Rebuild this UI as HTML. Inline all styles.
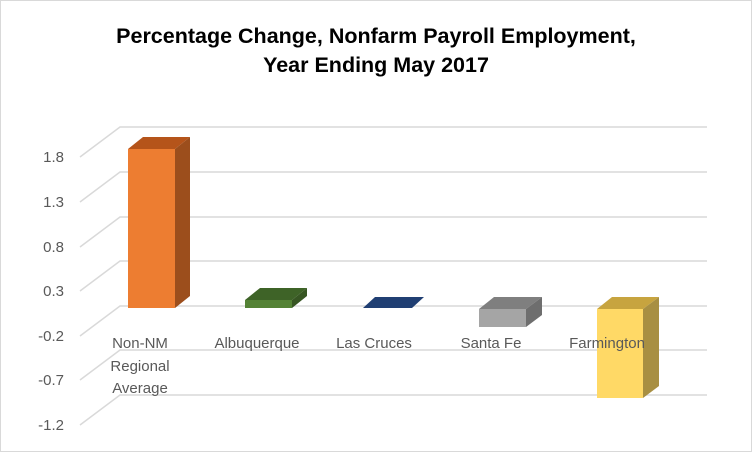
<!DOCTYPE html><html><head><style>body{margin:0}svg{display:block}</style></head><body>
<svg width="752" height="452" xmlns="http://www.w3.org/2000/svg" font-family="Liberation Sans, sans-serif">
<rect x="0.5" y="0.5" width="751" height="451" fill="#fff" stroke="#d9d9d9"/>
<text x="376" y="43" text-anchor="middle" font-size="21.5" font-weight="bold" fill="#000">Percentage Change, Nonfarm Payroll Employment,</text>
<text x="376" y="72" text-anchor="middle" font-size="21.5" font-weight="bold" fill="#000">Year Ending  May 2017</text>
<g stroke="#d9d9d9" stroke-width="1.5" fill="none">
<path d="M80 157L120 127H707M80 202L120 172H707M80 247L120 217H707M80 291L120 261H707M80 336L120 306H707M80 380L120 350H707M80 425L120 395H707"/>
</g>
<g font-size="15" fill="#595959" text-anchor="end">
<text x="64" y="162">1.8</text><text x="64" y="207">1.3</text><text x="64" y="252">0.8</text><text x="64" y="296">0.3</text><text x="64" y="341">-0.2</text><text x="64" y="385">-0.7</text><text x="64" y="430">-1.2</text>
</g>
<polygon points="128,149 143,137 190,137 175,149" fill="#b5541a"/>
<polygon points="175,149 190,137 190,296 175,308" fill="#9c4e1c"/>
<rect x="128" y="149" width="47" height="159" fill="#ed7d31"/>
<polygon points="245,300 260,288 307,288 292,300" fill="#3e6327"/>
<polygon points="292,300 307,288 307,296 292,308" fill="#375623"/>
<rect x="245" y="300" width="47" height="8" fill="#548235"/>
<polygon points="363,308 375,297 424,297 412,308" fill="#203f73"/>
<polygon points="479,309 494,297 542,297 526,309" fill="#7f7f7f"/>
<polygon points="526,309 542,297 542,315 526,327" fill="#6e6e6e"/>
<rect x="479" y="309" width="47" height="18" fill="#a5a5a5"/>
<polygon points="597,309 612,297 659,297 643,309" fill="#c7a43f"/>
<polygon points="643,309 659,297 659,386 643,398" fill="#a88f42"/>
<rect x="597" y="309" width="46" height="89" fill="#ffd966"/>
<g font-size="15" fill="#595959" text-anchor="middle">
<text x="140" y="348">Non-NM</text><text x="140" y="371">Regional</text><text x="140" y="393">Average</text>
<text x="257" y="348">Albuquerque</text><text x="374" y="348">Las Cruces</text><text x="491" y="348">Santa Fe</text><text x="607" y="348">Farmington</text>
</g>
</svg></body></html>
